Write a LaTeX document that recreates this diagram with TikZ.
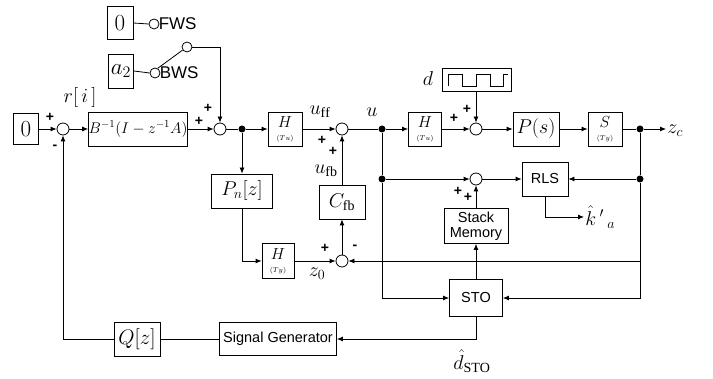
\documentclass[tikz,border=0pt]{standalone}
\usepackage{fix-cm}
\usepackage{amsmath}
\usepackage{fontspec}
\setmainfont{Liberation Serif}
\setsansfont{Liberation Sans}
\usetikzlibrary{arrows.meta}
\newcommand{\sigfont}{\fontsize{20}{22}\selectfont}
\newcommand{\bigfont}{\fontsize{23}{25}\selectfont}
\newcommand{\hfont}{\fontsize{16}{16}\selectfont}
\newcommand{\tinyfont}{\fontsize{7}{7}\selectfont}
\newcommand{\txtfont}{\sffamily\fontsize{14.5}{15}\selectfont}

\begin{document}
\begin{tikzpicture}[
    x=1pt, y=-1pt, line width=0.8pt,
    >={Latex[length=6pt, width=5pt]},
    block/.style={draw, inner sep=0pt, font=\sigfont, align=center},
    hblock/.style={block, minimum width=34pt, minimum height=34pt, font=\hfont},
    txtblock/.style={block, font=\txtfont},
    sum/.style={draw, circle, minimum size=12pt, inner sep=0pt},
    junc/.style={fill, circle, minimum size=7pt, inner sep=0pt},
    port/.style={draw, circle, minimum size=10pt, inner sep=0pt},
    sig/.style={font=\sigfont, inner sep=1pt},
    sgn/.style={font=\sffamily\bfseries\fontsize{14}{14}\selectfont, inner sep=0pt}
]
\useasboundingbox (0,0) rectangle (713,379);

% switch inputs
\node[block, minimum width=26pt, minimum height=33pt, font=\bigfont] (zeroT) at (120,23) {$0$};
\node[block, minimum width=25pt, minimum height=34pt, font=\bigfont] (a2) at (121,71) {$a_2$};
\node[port] (fws) at (154,24) {};
\node[port] (bws) at (155,73) {};
\node[port] (sw) at (187,47) {};
\node[anchor=west, font=\sffamily\fontsize{17}{17}\selectfont, inner sep=0pt] (fwst) at ([xshift=-1pt]fws.east) {FWS};
\node[anchor=west, font=\sffamily\fontsize{17}{17}\selectfont, inner sep=0pt] (bwst) at ([xshift=-1pt]bws.east) {BWS};

% upper row
\node[block, minimum width=25pt, minimum height=31pt, font=\bigfont] (zero) at (26,129) {$0$};
\node[sum] (s1) at (63,129) {};
\node[block, minimum width=94pt, minimum height=34pt, font=\fontsize{15.5}{18}\selectfont] (B) at (138,129) {$B^{-1}(I-z^{-1}A)$};
\node[sum] (s2) at (220,129) {};
\node[junc] (d1) at (242,129) {};
\node[hblock] (H1) at (285,129) {$H$\\[-3pt]{\tinyfont$(Tu)$}};
\node[sum] (s3) at (342,129) {};
\node[junc] (d2) at (382,129) {};
\node[hblock, minimum width=33pt] (H3) at (425,129) {$H$\\[-3pt]{\tinyfont$(Tu)$}};
\node[sum] (s6) at (476,129) {};
\node[block, minimum width=69pt, minimum height=23pt] (dbox) at (477,80) {};
\node[block, minimum width=46pt, minimum height=34pt] (Ps) at (536,129) {$P(s)$};
\node[hblock] (S) at (605,129) {$S$\\[-3pt]{\tinyfont$(Ty)$}};
\node[junc] (d4) at (640,129) {};
\node[sig, anchor=west] (zc) at (666,131) {$z_c$};

% middle rows
\node[block, minimum width=61pt, minimum height=34pt] (Pn) at (242,191) {$P_n[z]$};
\node[block, minimum width=46pt, minimum height=34pt] (Cfb) at (342,202) {$C_{\mathrm{fb}}$};
\node[hblock, minimum width=32pt, minimum height=35pt] (H2) at (278,261) {$H$\\[-3pt]{\tinyfont$(Ty)$}};
\node[sum] (s4) at (342,261) {};
\node[junc] (d3) at (382,179) {};
\node[sum] (s5) at (476,179) {};
\node[txtblock, minimum width=46pt, minimum height=34pt] (RLS) at (545,179) {RLS};
\node[junc] (d5) at (640,179) {};
\coordinate (br) at (640,261);
\node[sig, anchor=west] (kout) at (584,217) {$\hat{k}\,'\,{}_{a}$};
\node[txtblock, minimum width=64pt, minimum height=35pt] (Stack) at (476,226) {Stack\\Memory};
\node[txtblock, minimum width=53pt, minimum height=37pt] (STO) at (476,298) {STO};

% lower row
\node[txtblock, minimum width=117pt, minimum height=33pt] (SG) at (278,339) {Signal Generator};
\node[block, minimum width=46pt, minimum height=34pt, font=\fontsize{21}{23}\selectfont] (Q) at (137,339) {$Q[z]$};

% square wave
\draw[line width=0.7pt] (448,86) -- (448,74) -- (462,74) -- (462,86) -- (476,86) -- (476,74)
    -- (490,74) -- (490,86) -- (503,86) -- (503,74) -- (508,74);

% connectors
\draw (zeroT.east) -- (fws.west);
\draw (a2.east) -- (bws.west);
\draw (bws.60) -- (sw.215);
\draw[->] (sw.east) -| (s2.north);
\draw[->] (zero.east) -- (s1.west);
\draw[->] (s1.east) -- (B.west);
\draw[->] (B.east) -- (s2.west);
\draw (s2.east) -- (d1);
\draw[->] (d1) -- (H1.west);
\draw[->] (d1) -- (Pn.north);
\draw[->] (H1.east) -- (s3.west);
\draw (s3.east) -- (d2);
\draw[->] (d2) -- (H3.west);
\draw[->] (H3.east) -- (s6.west);
\draw[->] (dbox.south -| s6) -- (s6.north);
\draw[->] (s6.east) -- (Ps.west);
\draw[->] (Ps.east) -- (S.west);
\draw (S.east) -- (d4);
\draw[->] (d4) -- (zc.west |- d4);
\draw[->] (Pn.south) |- (H2.west);
\draw[->] (H2.east) -- (s4.west);
\draw[->] (s4.north) -- (Cfb.south);
\draw[->] (Cfb.north) -- (s3.south);
\draw (d2) -- (d3);
\draw[->] (d3) -- (s5.west);
\draw[->] (d3) |- (STO.west);
\draw[->] (s5.east) -- (RLS.west);
\draw (d4) -- (d5);
\draw[->] (d5) -- (RLS.east);
\draw[->] (d5) |- (STO.east);
\draw[->] (br) -- (s4.east);
\draw[->] (RLS.south) |- (kout.west);
\draw[->] (Stack.north) -- (s5.south);
\draw[->] (STO.north) -- (Stack.south);
\draw[->] (STO.south) |- (SG.east);
\draw (SG.west) -- (Q.east);
\draw[->] (Q.west) -| (s1.south);

% signal labels
\node[sig] (ri) at (80,98) {$r[\,i\,]$};
\node[sig] (uff) at (320,112) {$u_{\mathrm{ff}}$};
\node[sig] (ufb) at (326,171) {$u_{\mathrm{fb}}$};
\node[sig] (u) at (372,112) {$u$};
\node[sig] (d) at (428,79) {$d$};
\node[sig] (z0) at (317,274) {$z_0$};
\node[sig] (dsto) at (472,361) {$\hat{d}_{\mathrm{STO}}$};

% signs
\node[sgn] at (50,117) {+};
\node[sgn] at (55,147) {-};
\node[sgn] at (199,121) {+};
\node[sgn] at (208,108) {+};
\node[sgn] at (322,140) {+};
\node[sgn] at (333,151) {+};
\node[sgn] at (454,118) {+};
\node[sgn] at (467,109) {+};
\node[sgn] at (458,191) {+};
\node[sgn] at (468,197) {+};
\node[sgn] at (325,248) {+};
\node[sgn] at (355,247) {-};
\end{tikzpicture}
\end{document}
